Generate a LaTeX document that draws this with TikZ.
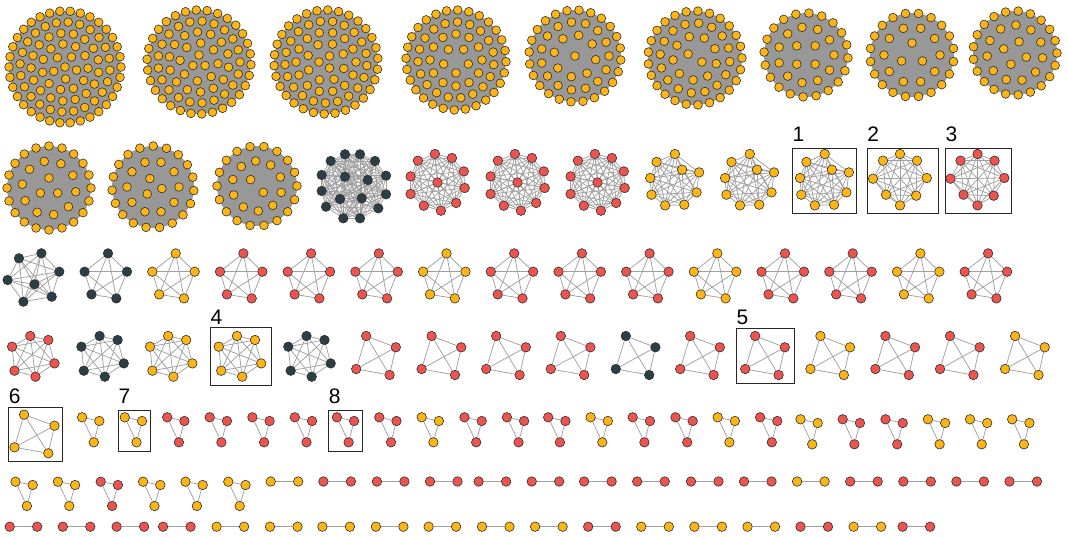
\documentclass[tikz,border=0pt]{standalone}
\usepackage{fontspec}
\setmainfont{Liberation Sans}
\usetikzlibrary{backgrounds}

\definecolor{cyellow}{RGB}{253,181,21}
\definecolor{cred}{RGB}{238,84,78}
\definecolor{cdark}{RGB}{43,62,70}
\definecolor{ndline}{RGB}{45,45,45}
\definecolor{edgegray}{RGB}{160,160,160}
\definecolor{hullgray}{RGB}{152,152,152}

\tikzset{
  vtx/.style={circle, draw=ndline, line width=0.6pt, inner sep=0pt, minimum size=9.5pt},
  yv/.style={vtx, fill=cyellow},
  rv/.style={vtx, fill=cred},
  dv/.style={vtx, fill=cdark},
  bigv/.style={minimum size=8.7pt},
  link/.style={draw=edgegray, line width=0.75pt},
  duolink/.style={draw=edgegray, line width=1.1pt},
  hull/.style={fill=hullgray},
  framebox/.style={draw=black!85, line width=0.9pt},
  tag/.style={font=\fontsize{21}{21}\selectfont, anchor=base west, inner sep=0pt}
}

% clique: [edge style]{name}{vertex style}{centre}{offsets dx/dy}
\newcommand{\cliq}[5][link]{%
  \begin{scope}[shift={(#4)}]
    \foreach \dx/\dy [count=\kk] in {#5} {%
      \node[#3] (#2-\kk) at (\dx,\dy) {};
      \xdef\cliqsize{\kk}}
  \end{scope}
  \begin{pgfonlayer}{background}
    \foreach \i in {1,...,\cliqsize} {%
      \foreach \j in {1,...,\cliqsize} {%
        \ifnum\i<\j\relax \draw[#1] (#2-\i) -- (#2-\j);\fi}}
  \end{pgfonlayer}}

% dense clique: {name}{vertex style}{centre}{radius}{rings rad/count/start}
\newcommand{\bigcliq}[5]{%
  \begin{scope}[shift={(#3)}]
    \fill[hull] (0,0) circle[radius=#4];
    \foreach \rad/\cnt/\ang [count=\q] in {#5} {%
      \foreach \m in {1,...,\cnt} {%
        \node[#2, bigv] (#1-\q-\m) at ({\ang+360*\m/\cnt}:\rad) {};}}
  \end{scope}}

\begin{document}
\begin{tikzpicture}[x=1pt, y=-1pt]
\useasboundingbox (0,0) rectangle (1067,537);

% row 1
\bigcliq{ga}{yv}{65,67}{56}{56/34/0, 45/24/4, 34/17/9, 23/11/3, 12/5/15, 0/1/0}
\bigcliq{gb}{yv}{199,62}{52}{52/30/3, 41/21/0, 30/14/10, 19/8/5, 7/3/30}
\bigcliq{gc}{yv}{326,62}{52}{52/30/8, 41/21/5, 30/14/0, 19/8/20, 7/3/60}
\bigcliq{gd}{yv}{456,60}{50}{50/28/2, 38/19/7, 26/12/0, 13/5/18}
\bigcliq{ge}{yv}{575,56}{46}{46/24/5, 34/15/0, 21/8/10, 0/1/0}
\bigcliq{gf}{yv}{695,58}{47}{47/25/0, 35/16/6, 22/9/15, 8/2/30}
\bigcliq{gg}{yv}{806,55}{42}{42/20/4, 28/11/0, 13/4/45}
\bigcliq{gh}{yv}{912,55}{42}{42/20/9, 28/10/0, 12/3/30}
\bigcliq{gi}{yv}{1015,53}{42}{42/21/0, 28/11/10, 12/4/20}

% row 2
\bigcliq{gj}{yv}{49,188}{42}{42/20/0, 27/10/8, 10/3/30}
\bigcliq{gk}{yv}{153,187}{41}{41/19/5, 26/10/0, 9/3/10}
\bigcliq{gl}{yv}{257,186}{40}{40/18/0, 25/10/15, 9/2/45}
\cliq{dsix}{dv}{353.5,186.3}{-22.8/-25.3, -8.5/-32, 6.5/-32, 21.5/-25.3, 32.5/-10.6, 32.5/8, 24.8/22, 6.5/32, -10.2/32, -27.5/20.4, -31.8/4.7, -31.8/-11.3, -8.5/-9.6, 14.2/-6.3, -13.5/12.7, 8.2/12}
\foreach \cx [count=\pp] in {437.5, 517.5, 597.5}
  {\cliq{ring\pp}{rv}{\cx,182.5}{0/0, -2.6/-28.5, 14.4/-24.5, 26.3/-11.1, 27.2/5.5, 18.7/20.5, 3.4/28.2, -13.7/23.2, -26.9/11.5, -26.9/-6.1, -19.6/-21.8}}
\foreach \cx [count=\pp] in {674.5, 749.4, 824.3}
  {\cliq{nine\pp}{yv}{\cx,180}{0.4/-26, -17.9/-18, 7.6/-10.3, 24.6/-7.6, -24.3/-2, 22.1/12.4, -23/14.7, -9.4/25.4, 9.8/24.7}}
\foreach \cx/\sty [count=\pp] in {900/yv, 977.5/rv}
  {\cliq{octa\pp}{\sty}{\cx,180}{0/-26, 17/-19.3, 26.8/-2, 16.2/15.7, 0/25.4, -14/14.7, -27/-1.3, -17/-19.3}}

% row 3
\cliq{kseven}{dv}{0,0}{19/258.3, 41.4/253.3, 59.3/271.7, 7.6/280, 34.5/284.3, 51.7/296.7, 23.4/301.7}
\foreach \cx/\sty [count=\pp] in {105.8/dv, 173.5/yv, 241.2/rv, 308.9/rv, 376.6/rv, 444.3/yv, 512/rv, 579.7/rv, 647.4/rv, 715.1/yv, 782.8/rv, 850.5/rv, 918.2/yv, 985.9/rv}
  {\cliq{pent\pp}{\sty}{\cx,271.7}{2.2/-18.3, -21.2/0, 21.2/0, -14.3/22.7, 10.5/26.7}}

% row 4
\foreach \cx/\sty [count=\pp] in {33.3/rv, 102.6/dv, 171.2/yv, 240/yv, 309.5/dv}
  {\cliq{hexa\pp}{\sty}{\cx,356.4}{-3/-20.4, 15/-16.4, -21.2/-9.7, 21.2/7, -18.8/14.3, 2.2/20.3}}
\foreach \cx/\sty [count=\pp] in {376/rv, 441.4/rv, 506/rv, 570.6/rv, 635.6/dv, 700/rv, 765/rv, 830.2/yv, 895.2/rv, 959.8/rv, 1024.9/yv}
  {\cliq{quad\pp}{\sty}{\cx,355.5}{-9.8/-19.5, 19.8/-8.2, -19.8/13.5, 13.6/19.5}}

% row 5
\cliq{quadbox}{yv}{34.5,434}{-10.4/-19.3, 20/-8.3, -20/13.3, 13.8/19.3}
\foreach \cx/\cy/\sty [count=\pp] in {82.1/417.3/yv, 124.8/417.3/yv, 167.2/417.3/rv, 209.7/417.3/rv, 252.4/417.3/rv, 294.8/417.3/rv, 336.9/417.3/rv, 379.3/417.3/rv, 421.7/417.3/yv, 464.5/417.3/rv, 506.9/417.3/rv, 548.2/417.3/rv, 590.6/417.3/yv, 632.7/417.3/rv, 675.5/417.3/rv, 717.7/417.3/yv, 760.1/417.3/rv, 800.5/419.3/yv, 842.7/419.3/rv, 885.5/419.3/rv, 927.9/419.3/yv, 970/419.3/yv, 1012.2/419.3/yv}
  {\cliq{tri\pp}{\sty}{\cx,\cy}{0/0, 17.2/3.7, 11.7/25}}

% row 6
\foreach \cx/\sty [count=\pp] in {15.5/yv, 57.9/yv, 100.7/rv, 143.1/yv, 185.5/yv, 228.3/yv}
  {\cliq{trib\pp}{\sty}{\cx,481.7}{0/0, 17.2/3.3, 11.4/24.3}}
\foreach \cx/\sty [count=\pp] in {270.7/yv, 323.4/rv, 376.9/rv, 430/rv, 478.6/rv, 531.7/rv, 584.1/rv, 637.2/rv, 691/rv, 744/rv, 797.1/yv, 850.2/rv, 903.3/rv, 956.4/rv, 1009.5/rv}
  {\cliq[duolink]{duo\pp}{\sty}{\cx,481.5}{0/0, 27.5/0}}

% row 7
\foreach \cx/\sty [count=\pp] in {9.7/rv, 62.8/rv, 116.6/rv, 163.1/rv, 216.6/yv, 270/yv, 322.4/yv, 375.9/yv, 428.6/yv, 482/yv, 535.1/yv, 588.2/rv, 641.3/yv, 694.4/yv, 747.5/yv, 800.5/rv, 853.6/yv, 902.6/rv}
  {\cliq[duolink]{duob\pp}{\sty}{\cx,526.7}{0/0, 27.5/0}}

% frames and tags
\draw[framebox] (792.3,148) rectangle (856.6,213);
\draw[framebox] (867.2,148) rectangle (938.3,213);
\draw[framebox] (945.5,148) rectangle (1011.5,213);
\draw[framebox] (210.3,327.3) rectangle (271.4,385);
\draw[framebox] (736.5,328.3) rectangle (794.4,383.3);
\draw[framebox] (8.6,407.3) rectangle (62.8,461);
\draw[framebox] (118.3,410) rectangle (150,451.7);
\draw[framebox] (328.6,410) rectangle (362,451.7);
\node[tag] (lab1) at (792.3,142) {1};
\node[tag] (lab2) at (867.2,142) {2};
\node[tag] (lab3) at (945.5,142) {3};
\node[tag] (lab4) at (210.3,324.5) {4};
\node[tag] (lab5) at (736.5,324.5) {5};
\node[tag] (lab6) at (8.6,403.3) {6};
\node[tag] (lab7) at (118.3,403.3) {7};
\node[tag] (lab8) at (328.6,403.3) {8};
\end{tikzpicture}
\end{document}
